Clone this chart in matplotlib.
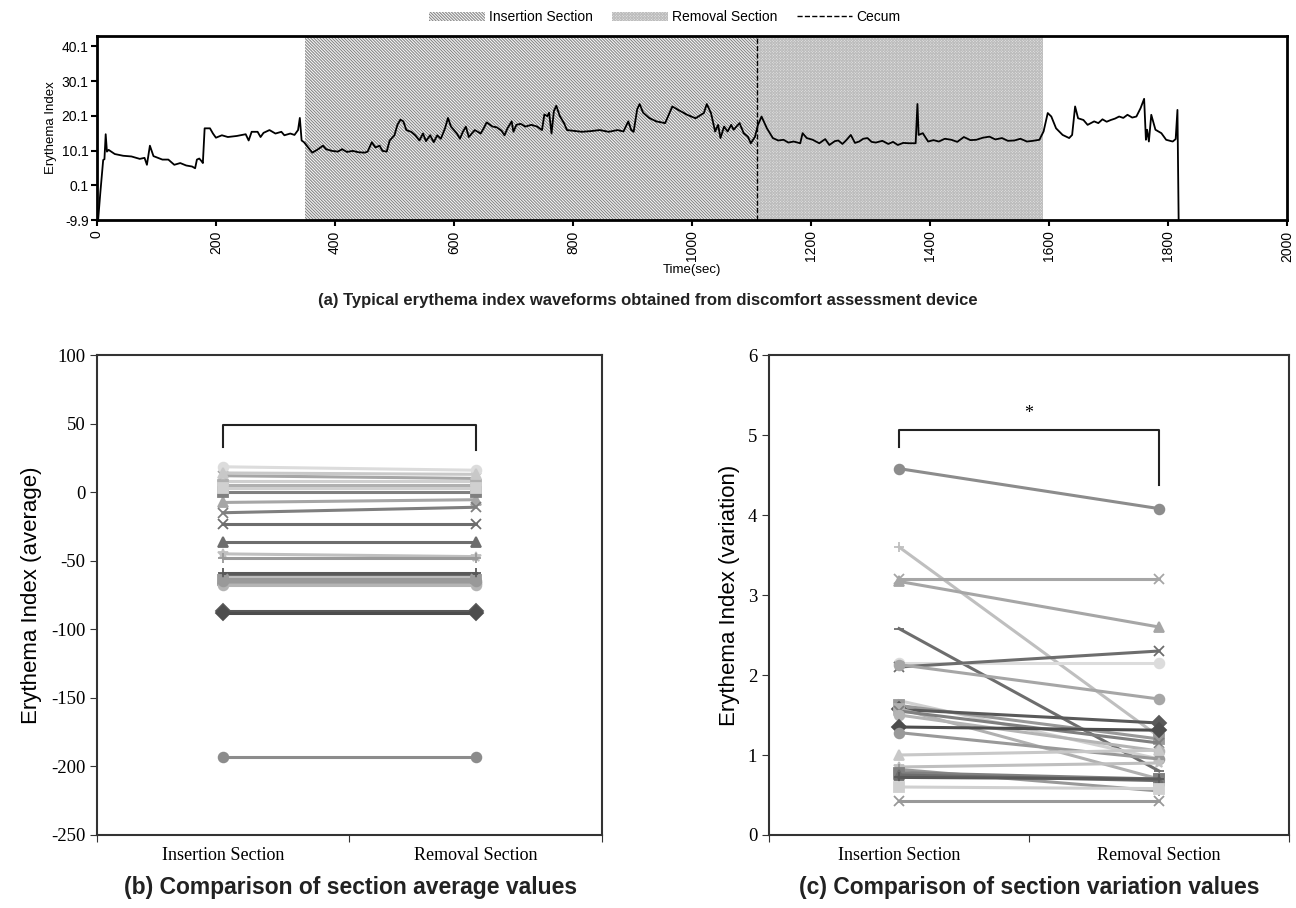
import numpy as np
import matplotlib
matplotlib.use("Agg")
import matplotlib.pyplot as plt
from matplotlib.patches import Patch
from matplotlib.lines import Line2D

# (a) erythema index waveform
t_sec = [0, 2, 5.6, 10.5, 12.6, 14.7, 16.8, 19.6, 30, 44, 58, 72, 80, 84, 89, 95, 110, 120, 130, 140,
         150, 160, 165, 168, 172, 176, 178, 181, 190, 195, 200, 210, 220, 235, 250, 255, 260, 270, 275, 280,
         290, 300, 310, 315, 325, 332, 338, 341, 344, 348, 355, 362, 370, 380, 385, 395, 405, 412, 420, 430,
         440, 450, 455, 462, 468, 475, 480, 487, 492, 500, 505, 510, 515, 520, 528, 535, 542, 548, 553, 560,
         566, 572, 578, 585, 590, 595, 600, 605, 610, 615, 620, 625, 635, 645, 650, 655, 665, 672, 680, 685,
         690, 697, 700, 705, 712, 720, 730, 740, 748, 752, 757, 760, 764, 768, 772, 778, 785, 790, 800, 815,
         830, 845, 860, 875, 885, 893, 898, 902, 908, 912, 918, 928, 940, 955, 967, 977, 992, 1006, 1020, 1025,
         1032, 1039, 1044, 1048, 1054, 1060, 1066, 1070, 1080, 1087, 1094, 1099, 1106, 1111, 1117, 1126, 1136, 1145, 1154, 1162,
         1171, 1182, 1186, 1193, 1203, 1214, 1224, 1231, 1240, 1246, 1253, 1260, 1267, 1274, 1281, 1288, 1295, 1302, 1309, 1320,
         1330, 1338, 1346, 1355, 1365, 1376, 1379, 1381, 1388, 1397, 1406, 1415, 1425, 1436, 1446, 1457, 1468, 1478, 1489, 1500,
         1510, 1521, 1531, 1542, 1552, 1563, 1573, 1584, 1591, 1598, 1604, 1612, 1623, 1634, 1639, 1644, 1649, 1658, 1665, 1676,
         1683, 1690, 1697, 1704, 1711, 1718, 1725, 1732, 1740, 1747, 1754, 1760, 1763, 1765, 1768, 1772, 1779, 1789, 1797, 1808,
         1813, 1816, 1818]
ei_val = [-9.9, -9.9, -2.2, 7.4, 7.6, 14.8, 9.8, 10.3, 9.1, 8.6, 8.4, 7.7, 8.0, 6.0, 11.5, 8.5, 7.5, 7.5, 6.0, 6.5,
          5.8, 5.5, 5.0, 7.5, 7.8, 7.0, 6.5, 16.5, 16.5, 15.0, 13.8, 14.5, 14.0, 14.3, 14.8, 13.0, 15.5, 15.5, 14.0, 15.2,
          16.0, 15.0, 15.5, 14.5, 15.0, 14.6, 16.0, 19.5, 13.0, 12.5, 11.0, 9.5, 10.3, 11.5, 10.5, 10.0, 9.8, 10.5, 9.7, 10.0,
          9.6, 9.5, 9.8, 12.5, 11.0, 11.5, 10.0, 9.8, 13.0, 14.5, 17.5, 19.0, 18.5, 16.0, 15.5, 14.5, 13.0, 15.0, 12.8, 14.5,
          12.5, 14.5, 13.5, 16.5, 19.5, 17.0, 16.0, 15.0, 13.5, 15.5, 17.0, 14.0, 16.0, 15.0, 16.5, 18.2, 17.0, 16.8, 15.8, 14.5,
          16.5, 18.5, 15.5, 17.5, 17.8, 17.0, 17.5, 17.0, 16.0, 20.5, 20.0, 21.0, 15.0, 21.5, 23.0, 20.0, 18.0, 16.0, 15.8, 15.5,
          15.7, 16.0, 15.5, 16.0, 15.6, 18.5, 16.0, 15.5, 22.0, 23.5, 21.0, 19.5, 18.5, 18.0, 22.8, 21.8, 20.4, 19.4, 20.9, 23.5,
          20.9, 15.6, 17.5, 13.7, 17.0, 15.6, 17.5, 16.1, 18.0, 15.1, 14.1, 12.2, 14.1, 17.5, 19.9, 16.5, 13.7, 13.0, 13.2, 12.4,
          12.7, 12.2, 15.1, 13.7, 13.2, 12.2, 13.4, 11.7, 12.8, 13.0, 12.0, 13.2, 14.6, 12.3, 12.7, 13.5, 13.7, 12.6, 12.4, 12.9,
          12.0, 12.6, 11.7, 12.3, 12.2, 12.2, 23.5, 14.6, 15.1, 12.7, 13.1, 12.7, 13.5, 13.2, 12.6, 14.0, 13.1, 13.2, 13.8, 14.1,
          13.3, 13.7, 12.9, 13.0, 13.5, 12.7, 12.9, 13.2, 15.6, 20.9, 19.9, 16.5, 14.6, 13.7, 14.6, 22.8, 19.4, 18.9, 17.5, 18.5,
          18.0, 19.1, 18.4, 18.9, 19.3, 19.9, 19.5, 20.4, 19.6, 19.9, 22.3, 25.0, 13.2, 16.1, 12.7, 20.4, 16.1, 15.1, 13.2, 12.7,
          13.4, 21.8, -9.9]

insert_start, cecum_t, removal_end = 350, 1110, 1590

# (b)/(c) per-subject section values
categories = ["Insertion Section", "Removal Section"]
avg_ins = [-193, -62, 12, -7.5, -60, 18.5, -23, -66, 8, -64, -87, 5, -15, -68, -88, -65, 14, -45, -48, 0, -36, -59, 3, -63]
avg_rem = [-193, -62, 10, -5.5, -60, 16, -23, -66, 8, -64, -87, 5, -11, -68, -88, -65, 13, -47, -48, 0, -36, -59, 3, -63]
var_ins = [4.58, 3.60, 3.20, 3.17, 2.58, 2.15, 2.10, 2.13, 1.68, 1.62, 1.57, 1.58, 1.55, 1.50, 1.35, 1.28, 1.00, 0.85, 0.82, 0.78, 0.75, 0.72, 0.60, 0.42]
var_rem = [4.08, 1.23, 3.20, 2.60, 0.80, 2.15, 2.30, 1.70, 0.95, 1.20, 1.40, 0.70, 1.15, 1.05, 1.31, 0.95, 1.06, 0.90, 0.55, 0.70, 0.68, 0.70, 0.58, 0.42]
line_colors = ["#8c8c8c", "#bfbfbf", "#a6a6a6", "#a6a6a6", "#6d6d6d", "#dcdcdc", "#6d6d6d", "#a6a6a6",
               "#d0d0d0", "#999999", "#595959", "#b0b0b0", "#7f7f7f", "#b4b4b4", "#4d4d4d", "#999999",
               "#c8c8c8", "#bfbfbf", "#999999", "#808080", "#6d6d6d", "#595959", "#d0d0d0", "#999999"]
line_markers = ["o", "+", "x", "^", "_", "o", "x", "o", "_", "s", "D", "s", "x", "o", "D", "o",
                "^", "*", "+", "s", "^", "+", "s", "x"]

plt.rcParams["hatch.linewidth"] = 0.7
plt.rcParams["axes.unicode_minus"] = False
fig = plt.figure(figsize=(12.96, 9.08), dpi=100)

ins_hatch = "\\" * 11
rem_hatch = "x" * 12

# ---------- (a) ----------
ax = fig.add_axes([0.0748, 0.7577, 0.9182, 0.2027])
ax.axvspan(insert_start, cecum_t, facecolor="#f4f4f4", edgecolor="#808080", hatch=ins_hatch, lw=0)
ax.axvspan(cecum_t, removal_end, facecolor="#e8e8e8", edgecolor="#bdbdbd", hatch=rem_hatch, lw=0)
ax.plot(t_sec, ei_val, color="black", lw=1.3)
ax.axvline(cecum_t, color="black", ls="--", lw=1)
ax.set_xlim(0, 2000)
ax.set_ylim(-9.9, 43.1)
ax.set_xticks(np.arange(0, 2001, 200))
ax.set_yticks(np.arange(-9.9, 41, 10))
ax.set_yticklabels(["%.1f" % v for v in np.arange(-9.9, 41, 10)])
ax.tick_params(axis="x", labelrotation=90, direction="out", length=4, width=1.5, labelsize=10)
ax.tick_params(axis="y", direction="out", length=4, width=1.5, labelsize=10, pad=2)
for lab in ax.get_xticklabels() + ax.get_yticklabels():
    lab.set_family("Liberation Sans")
for s in ax.spines.values():
    s.set_linewidth(2)
ax.set_xlabel("Time(sec)", fontsize=9.5, family="Liberation Sans", labelpad=2)
ax.set_ylabel("Erythema Index", fontsize=9.5, family="Liberation Sans", labelpad=3)

handles = [Patch(facecolor="#f4f4f4", edgecolor="#808080", hatch=ins_hatch, lw=0),
           Patch(facecolor="#e8e8e8", edgecolor="#bdbdbd", hatch=rem_hatch, lw=0),
           Line2D([0], [0], color="black", ls="--", lw=1)]
fig.legend(handles, ["Insertion Section", "Removal Section", "Cecum"], loc="center",
           bbox_to_anchor=(0.513, 0.981), ncol=3, frameon=False,
           prop={"family": "Liberation Sans", "size": 10}, handlelength=4.0, handleheight=0.7,
           columnspacing=1.4, handletextpad=0.3)

fig.text(0.5, 0.669, "(a) Typical erythema index waveforms obtained from discomfort assessment device",
         ha="center", va="center", fontsize=12, weight="bold", family="Liberation Sans", color="#222222")


def pair_panel(ax, ins, rem, ylim, yticks, ylabel):
    for i in range(len(ins)):
        ax.plot([1, 2], [ins[i], rem[i]], color=line_colors[i], marker=line_markers[i],
                lw=2.2, ms=7, mew=1.3)
    ax.set_xlim(0.5, 2.5)
    ax.set_ylim(*ylim)
    ax.set_yticks(yticks)
    ax.set_xticks([0.5, 1.5, 2.5])
    ax.set_xticklabels([])
    ax.set_xticks([1, 2], minor=True)
    ax.set_xticklabels(categories, minor=True)
    ax.tick_params(axis="x", which="minor", length=0, pad=9, labelsize=13)
    ax.tick_params(axis="x", which="major", direction="out", length=5, color="#333333")
    ax.tick_params(axis="y", direction="out", length=5, labelsize=13.5, color="#333333")
    for lab in ax.get_xticklabels(minor=True) + ax.get_yticklabels():
        lab.set_family("Liberation Serif")
    for s in ax.spines.values():
        s.set_linewidth(1.5)
        s.set_color("#333333")
    ax.set_ylabel(ylabel, fontsize=16, family="Liberation Sans", labelpad=6)


# ---------- (b) ----------
axb = fig.add_axes([0.0748, 0.0804, 0.3897, 0.5286])
pair_panel(axb, avg_ins, avg_rem, (-250, 100), np.arange(-250, 101, 50), "Erythema Index (average)")
axb.plot([1, 1, 2, 2], [33, 48.8, 48.8, 31], color="#222222", lw=1.5)
fig.text(0.2705, 0.023, "(b) Comparison of section average values", ha="center", va="center",
         fontsize=16.5, weight="bold", family="Liberation Sans", color="#222222")

# ---------- (c) ----------
axc = fig.add_axes([0.5934, 0.0804, 0.4012, 0.5286])
pair_panel(axc, var_ins, var_rem, (0, 6), np.arange(0, 7, 1), "Erythema Index (variation)")
axc.plot([1, 1, 2, 2], [4.85, 5.06, 5.06, 4.375], color="#222222", lw=1.5)
axc.text(1.5, 5.27, "*", ha="center", va="center", fontsize=13, family="Liberation Serif")
fig.text(0.794, 0.023, "(c) Comparison of section variation values", ha="center", va="center",
         fontsize=16.5, weight="bold", family="Liberation Sans", color="#222222")

fig.savefig("out.png", dpi=100)
